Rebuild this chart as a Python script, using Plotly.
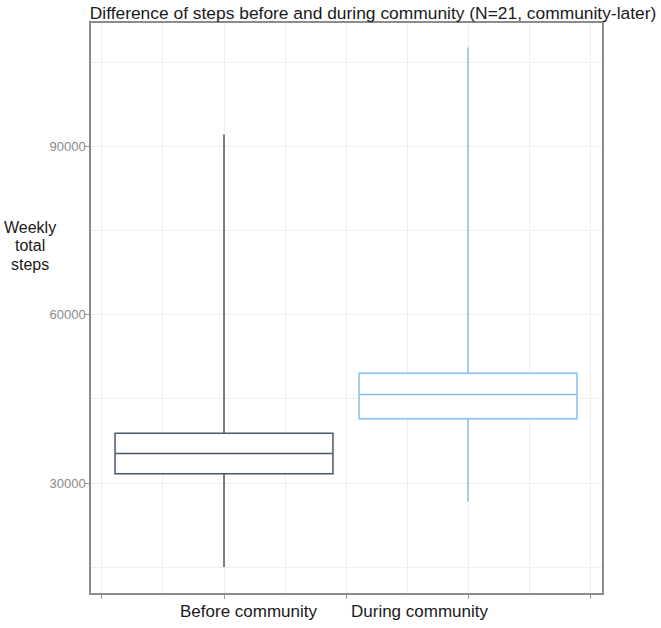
import plotly.graph_objects as go

# Data
groups = ["Before community", "During community"]
positions = [1, 2]
lower_whisker = [15100, 26700]
q1_vals = [31700, 41500]
medians = [35300, 45800]
q3_vals = [38900, 49600]
upper_whisker = [92100, 107600]
colors = ["#4b5669", "#82bff0"]
y_ticks = [30000, 60000, 90000]
x_ticks = [0.5, 1, 1.5, 2, 2.5]
y_title_lines = ["Weekly", "total", "steps"]

fig = go.Figure()
for i, g in enumerate(groups):
    fig.add_trace(go.Box(
        name=g,
        x=[positions[i]],
        q1=[q1_vals[i]], median=[medians[i]], q3=[q3_vals[i]],
        lowerfence=[lower_whisker[i]], upperfence=[upper_whisker[i]],
        width=0.893,
        whiskerwidth=0,
        boxpoints=False,
        fillcolor="white",
        line=dict(color=colors[i], width=1.5),
        showlegend=False,
    ))

grid_c = "#efefef"
fig.update_layout(
    width=661, height=628,
    margin=dict(l=91, r=59, t=23, b=35),
    paper_bgcolor="white", plot_bgcolor="white",
    font=dict(family="Liberation Sans, Arial, sans-serif", color="#1a1a1a"),
    title=dict(text="Difference of steps before and during community (N=21, community-later)",
               x=373 / 661, xanchor="center", xref="container",
               y=1 - 13 / 628, yanchor="middle", yref="container",
               font=dict(size=17.4, color="#1a1a1a"),
               pad=dict(t=0, b=0, l=0, r=0)),
    xaxis=dict(range=[0.455, 2.549], tickvals=x_ticks, showticklabels=False,
               ticks="outside", ticklen=4, tickcolor="#9a9a9a",
               showgrid=True, gridcolor=grid_c, gridwidth=1,
               minor=dict(dtick=0.25, tick0=0, showgrid=True, gridcolor=grid_c, gridwidth=1),
               showline=True, mirror=True, linecolor="#8c8c8c", linewidth=1.5,
               zeroline=False),
    yaxis=dict(range=[10450, 111960], tickvals=y_ticks, ticktext=[str(v) for v in y_ticks],
               ticks="outside", ticklen=4, tickcolor="#9a9a9a",
               ticklabelstandoff=-3,
               tickfont=dict(size=13, color="#8a8a8a"),
               showgrid=True, gridcolor=grid_c, gridwidth=1,
               minor=dict(dtick=15000, tick0=0, showgrid=True, gridcolor=grid_c, gridwidth=1),
               showline=True, mirror=True, linecolor="#8c8c8c", linewidth=1.5,
               zeroline=False),
)

# y-axis title (horizontal, three lines)
for line, py in zip(y_title_lines, [227, 245.5, 264]):
    fig.add_annotation(text=line, xref="paper", yref="paper",
                       x=(30 - 91) / 511, y=(593 - py) / 570, xanchor="center", yanchor="middle",
                       showarrow=False, font=dict(size=16, color="#1a1a1a"))

# category labels
label_x = [1.102, 1.803]
for g, lx in zip(groups, label_x):
    fig.add_annotation(text=g, xref="x", yref="paper", x=lx, y=(593 - 611) / 570,
                       xanchor="center", yanchor="middle", showarrow=False,
                       font=dict(size=17, color="#1a1a1a"))

fig.write_html("out.html", config={"displayModeBar": False},
               post_script="document.body.style.margin='0';")
